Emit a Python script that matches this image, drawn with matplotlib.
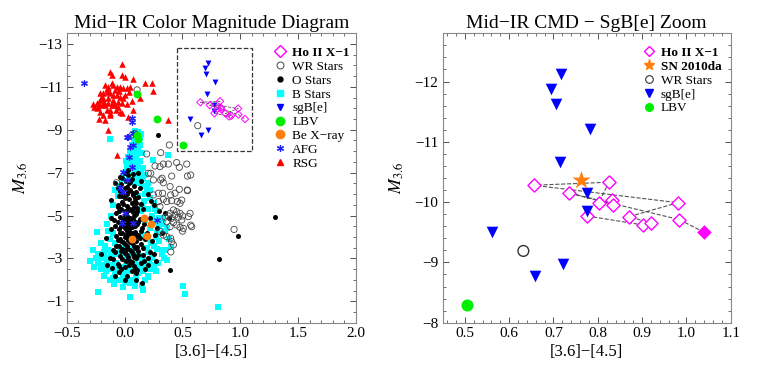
import matplotlib
matplotlib.use("Agg")
import matplotlib.pyplot as plt
from matplotlib.lines import Line2D
from matplotlib.ticker import MultipleLocator
from matplotlib.patches import Rectangle

plt.rcParams['font.family'] = ['Liberation Serif', 'DejaVu Serif']
plt.rcParams['mathtext.fontset'] = 'stix'

# ---------------- data ----------------
# Ho II X-1 track (time ordered); last point is the filled one
ho_x = [0.776, 0.903, 0.921, 0.871, 0.981, 0.655, 0.825, 0.802, 0.832, 0.834, 0.736, 0.984, 1.040]
ho_y = [-9.77, -9.62, -9.65, -9.76, -9.99, -10.28, -10.33, -9.98, -10.03, -9.96, -10.15, -9.71, -9.50]

sn_x = [0.761]
sn_y = [-10.36]

sgb_x = [0.717, 0.694, 0.705, 0.782, 0.715, 0.776, 0.776, 0.562, 0.722, 0.659]
sgb_y = [-12.13, -11.88, -11.62, -11.22, -10.66, -10.15, -9.86, -9.50, -8.98, -8.77]

lbv_x = [0.108, 0.276, 0.108, 0.117, 0.504]
lbv_y = [-10.66, -9.49, -8.76, -8.56, -8.30]

bex_x = [0.166, 0.230, 0.195, 0.060]
bex_y = [-4.87, -4.60, -4.04, -3.91]

afg_x = [-0.35, 0.061, 0.061, 0.033, 0.076, 0.018, 0.047, 0.076, 0.041, 0.061, -0.011, 0.018,
         -0.039, -0.011, 0.004, -0.025, 0.076, 0.283]
afg_y = [-11.17, -9.53, -9.35, -8.65, -8.87, -8.68, -8.21, -8.29, -7.75, -7.28, -7.05, -6.66,
         -6.27, -6.11, -5.10, -4.64, -4.64, -4.79]

rsg_x = [-0.025, -0.126, -0.110, -0.025, 0.004, 0.076, 0.177, 0.234, 0.243, 0.133, 0.076, 0.061,
         0.033, -0.146, 0.378, -0.169, -0.140, -0.111, -0.097, -0.068, -0.083, -0.039, -0.011,
         0.018, 0.041, 0.047, -0.183, -0.212, -0.155, -0.126, -0.097, -0.068, -0.039, -0.011,
         -0.025, -0.054, -0.097, -0.140, -0.183, -0.212, -0.241, -0.264, -0.227, -0.198, -0.169,
         -0.140, -0.111, -0.083, -0.054, -0.155, -0.126, -0.212, -0.183, -0.126, -0.039, -0.025,
         -0.218, -0.169, -0.24, -0.20, -0.15, -0.10, -0.05, 0.00, -0.13, -0.07, -0.18, -0.27,
         -0.22, 0.02, -0.065]
rsg_y = [-12.07, -11.71, -11.55, -11.55, -11.48, -11.37, -11.17, -11.20, -10.82, -10.47, -9.92,
         -10.36, -9.61, -8.99, -9.46, -11.09, -11.01, -11.17, -11.09, -11.01, -10.86, -11.01,
         -10.93, -10.93, -10.78, -11.01, -10.70, -10.70, -10.78, -10.70, -10.62, -10.62, -10.55,
         -10.47, -10.27, -10.31, -10.39, -10.47, -10.47, -10.39, -10.23, -10.08, -10.08, -10.16,
         -10.16, -10.23, -10.16, -10.16, -10.08, -9.92, -9.92, -9.85, -9.69, -9.69, -9.85, -9.77,
         -9.49, -9.46, -10.0, -10.5, -10.9, -10.3, -10.8, -10.6, -9.8, -9.9, -10.3, -10.2,
         -10.2, -10.2, -7.83]

wr_x = [0.387, 0.312, 0.191, 0.450, 0.473, 0.335, 0.378, 0.263, 0.306, 0.537, 0.226, 0.407,
        0.312, 0.335, 0.324, 0.543, 0.393, 0.543, 0.473, 0.249, 0.292, 0.329, 0.398, 0.436,
        0.494, 0.479, 0.456, 0.364, 0.407, 0.335, 0.292, 0.306, 0.566, 0.551, 0.422, 0.450,
        0.479, 0.502, 0.393, 0.436, 0.465, 0.494, 0.407, 0.378, 0.350, 0.364, 0.422, 0.450,
        0.393, 0.479, 0.508, 0.580, 0.306, 0.335, 0.364, 0.398, 0.407, 0.422, 0.946, 0.571,
        0.542, 0.571, 0.500, 0.400, -0.070, 0.108, 0.065, 0.090, 0.249, 0.205, 0.632]
wr_y = [-8.29, -7.93, -7.87, -7.47, -7.25, -7.40, -7.40, -7.31, -7.28, -7.40, -6.97, -6.84,
        -6.66, -6.53, -6.74, -6.84, -6.35, -6.16, -6.22, -5.96, -6.04, -6.04, -5.96, -6.04,
        -5.72, -5.57, -5.65, -5.65, -5.69, -5.76, -5.65, -5.41, -5.10, -4.95, -5.26, -5.18,
        -5.10, -4.98, -5.10, -5.02, -4.92, -4.79, -4.87, -4.98, -4.92, -4.71, -4.67, -4.56,
        -4.48, -4.45, -4.40, -4.48, -4.25, -4.09, -4.01, -3.94, -3.78, -3.63, -4.35, -6.89,
        -6.19, -4.55, -4.27, -3.30, -6.53, -10.86, -8.76, -8.83, -6.66, -6.97, -9.19]

bst_x = [0.12, 0.10, 0.13, 0.08, 0.11, 0.06, 0.09, 0.12, 0.05, 0.08, 0.11, 0.03, 0.07, 0.10,
         0.13, 0.04, 0.08, 0.12, 0.02, 0.06, 0.10, 0.14, 0.00, 0.04, 0.08, 0.12, 0.16, -0.02,
         0.02, 0.06, 0.10, 0.15, 0.19, -0.123, 0.377, 0.249,
         -0.08, 0.18, 0.22, 0.25, 0.15, 0.20, 0.28, 0.24, 0.32, 0.18, 0.26, 0.30, 0.22, 0.35,
         0.28, 0.16, 0.20, 0.30, 0.25, 0.35, 0.40, 0.32, -0.10, -0.12, -0.15, -0.24, -0.10,
         -0.13, -0.08, -0.17, 0.12, 0.14, 0.10, 0.12,
         -0.27, -0.21, -0.18, -0.25, -0.30, -0.21, -0.16, -0.12, -0.08, -0.04, 0.00, 0.04, 0.08,
         0.12, 0.16, 0.20, 0.24, -0.23, -0.19, -0.15, -0.11, -0.07, -0.03, 0.01, 0.05, 0.09,
         0.13, 0.17, 0.21, 0.25, 0.29, -0.20, -0.16, -0.12, -0.08, -0.04, 0.00, 0.04, 0.08,
         0.12, 0.16, 0.20, -0.10, -0.05, 0.02, 0.07, 0.10, 0.205, -0.054, 0.148, 0.156, -0.01,
         0.05, -0.227, 0.047, 0.505, 0.525, 0.81, -0.30, 0.31, 0.335, 0.364,
         0.14, 0.09, 0.13, 0.15, 0.16, 0.01, 0.18, 0.20, 0.22, -0.05, -0.06, 0.17, 0.26, 0.30,
         0.33, 0.37, 0.27, 0.23, 0.38, 0.34, 0.28, -0.14, -0.20, -0.23, -0.26, -0.18, -0.13,
         -0.09, 0.00, 0.09, 0.18, 0.22, 0.27, 0.15, -0.01, 0.03, -0.06, 0.11, -0.14, 0.19,
         0.07, -0.02]
bst_y = [-8.90, -8.75, -8.60, -8.50, -8.40, -8.30, -8.20, -8.10, -8.00, -7.90, -7.85, -7.75,
         -7.70, -7.60, -7.55, -7.45, -7.40, -7.30, -7.25, -7.15, -7.10, -7.00, -7.00, -6.90,
         -6.85, -6.75, -6.70, -6.70, -6.60, -6.55, -6.50, -6.40, -6.30, -8.55, -7.83, -7.59,
         -6.20, -6.00, -5.80, -5.60, -5.50, -5.30, -5.20, -5.00, -4.90, -4.80, -4.70, -4.50,
         -4.40, -4.30, -4.20, -4.10, -3.90, -3.80, -3.60, -3.40, -3.55, -3.20, -5.50, -5.00,
         -4.60, -4.22, -4.20, -3.90, -3.70, -3.60, -5.90, -5.20, -4.60, -4.00,
         -3.40, -3.20, -3.30, -3.00, -2.90, -3.00, -3.00, -3.10, -3.20, -3.30, -3.00, -3.10,
         -3.20, -3.00, -3.10, -3.30, -3.00, -2.80, -2.70, -2.80, -2.70, -2.80, -2.60, -2.70,
         -2.60, -2.80, -2.70, -2.60, -2.80, -2.70, -2.77, -2.50, -2.40, -2.50, -2.30, -2.40,
         -2.30, -2.40, -2.50, -2.30, -2.40, -2.20, -2.10, -2.00, -2.10, -2.00, -2.15, -2.15,
         -1.99, -1.76, -1.53, -1.68, -1.85, -1.42, -1.18, -1.70, -1.36, -0.74, -2.87, -4.17,
         -3.39, -2.93,
         -8.80, -8.95, -8.30, -7.90, -7.20, -7.55, -6.90, -6.50, -6.20, -6.40, -5.90, -5.70,
         -5.30, -4.90, -4.60, -4.40, -4.00, -3.70, -3.90, -3.00, -3.45, -4.30, -3.70, -3.20,
         -2.60, -2.20, -2.00, -1.80, -1.90, -1.70, -2.00, -2.50, -2.40, -2.90, -2.20, -2.90,
         -2.55, -2.55, -3.40, -3.50, -3.45, -3.50]

ost_x = [0.00, 0.03, -0.02, 0.06, 0.01, 0.04, -0.03, 0.08, 0.00, 0.05, -0.04, 0.10, 0.02,
         0.07, -0.05, 0.12, 0.00, 0.04, 0.09, -0.02, 0.06, 0.14, -0.06, 0.02, 0.08, 0.11,
         -0.03, 0.04, 0.00, 0.07, -0.07, 0.10, 0.02, -0.04, 0.05, 0.13, -0.01, 0.08, -0.06,
         0.03, 0.11, 0.00, -0.03, 0.06, 0.15, -0.05, 0.02, 0.09, -0.02, 0.05, 0.12, -0.07,
         0.00, 0.07, -0.04, 0.03, 0.10, -0.01, 0.06, 0.14, -0.05, 0.02, 0.09, -0.02, 0.05,
         0.12, -0.08, 0.00, 0.07, 0.16, -0.04, 0.03, 0.10, -0.10, 0.01, 0.06, 0.14, -0.06,
         0.04, 0.00, 0.09, -0.03, 0.18,
         0.01, 0.03, 0.05, 0.02, 0.04, 0.01, 0.03, 0.06, 0.00, 0.04, 0.07, 0.02, 0.00, 0.08,
         -0.02, 0.06, 0.03, -0.01, 0.08, -0.03,
         -0.117, -0.12, -0.16, -0.08, 0.20, 0.25, 0.30, 0.22, 0.28, 0.19, 0.24, 0.22, 0.17,
         -0.13, -0.20, -0.11, 0.20, 0.32, 0.38, 0.35, 0.15, 0.39, 0.29, 1.30, 0.98, 0.82,
         -0.05, 0.02, 0.10, 0.14, 0.12,
         -0.04, 0.02, 0.07, -0.01, 0.03, 0.10, -0.05, 0.08, 0.01, -0.02, 0.09, 0.04, -0.04,
         0.02, 0.10, -0.06, 0.05, 0.00, 0.11, -0.03, 0.06, 0.02, -0.07, 0.13, 0.14, 0.12,
         0.11, 0.09, -0.08, -0.09, -0.06, -0.01, 0.05, 0.00, 0.06, 0.03, 0.01, 0.08, -0.02,
         0.12, 0.05, -0.10, 0.16, 0.18, 0.17, -0.05, 0.08, 0.11, 0.20, 0.25, 0.27, -0.15,
         -0.12, 0.16, 0.03, 0.07, -0.06, 0.13, 0.23, 0.26, 0.10, 0.00, -0.08, 0.06]
ost_y = [-7.00, -6.90, -6.75, -6.70, -6.60, -6.50, -6.45, -6.40, -6.30, -6.20, -6.15, -6.10,
         -6.00, -5.95, -5.90, -5.85, -5.80, -5.75, -5.70, -5.65, -5.60, -5.55, -5.50, -5.45,
         -5.40, -5.35, -5.30, -5.25, -5.20, -5.15, -5.10, -5.05, -5.00, -4.95, -4.90, -4.85,
         -4.80, -4.75, -4.70, -4.65, -4.60, -4.55, -4.50, -4.45, -4.40, -4.35, -4.30, -4.25,
         -4.20, -4.15, -4.10, -4.05, -4.00, -3.95, -3.90, -3.85, -3.80, -3.75, -3.70, -3.65,
         -3.60, -3.55, -3.50, -3.45, -3.40, -3.35, -3.30, -3.25, -3.20, -3.15, -3.10, -3.05,
         -3.00, -2.95, -2.90, -2.85, -2.80, -2.75, -2.70, -2.60, -2.55, -2.50, -2.50,
         -5.10, -4.90, -4.70, -4.50, -4.30, -4.10, -3.90, -4.00, -4.40, -4.60, -4.80, -3.60,
         -3.30, -3.60, -5.90, -5.30, -6.10, -4.70, -4.20, -3.80,
         -5.72, -4.35, -3.93, -6.50, -6.00, -5.50, -5.20, -4.90, -4.40, -4.20, -3.80, -3.30,
         -2.90, -3.00, -3.20, -2.55, -3.00, -4.20, -4.90, -5.10, -1.86, -2.45, -8.75, -4.95,
         -4.05, -2.95, -2.35, -2.20, -2.30, -6.60, -7.00,
         -6.80, -6.35, -6.05, -5.55, -5.35, -5.60, -5.20, -5.00, -4.85, -4.60, -4.50, -4.40,
         -4.20, -4.00, -4.05, -3.85, -3.75, -3.65, -3.55, -3.35, -3.30, -3.15, -3.60, -3.95,
         -4.30, -4.70, -5.20, -5.80, -4.50, -4.80, -5.40, -6.00, -6.55, -5.00, -4.20, -4.60,
         -3.45, -3.05, -2.95, -3.15, -2.90, -3.40, -3.50, -3.90, -4.60, -2.65, -2.65, -2.45,
         -2.70, -3.20, -2.90, -2.70, -4.90, -5.30, -7.10, -6.95, -6.30, -6.30, -5.70, -4.10,
         -2.00, -2.00, -2.20, -2.40]

# zoom-panel box (same as right panel limits)
box_x = [0.45, 1.10]
box_y = [-12.8, -8.0]

MAG = '#ff00ff'
ORANGE = '#ff7f0e'
GREEN = '#00ee00'
FRAME = '#888888'

fig = plt.figure(figsize=(7.59, 3.78), dpi=100)
ax1 = fig.add_axes([0.0879, 0.1463, 0.3812, 0.7656])
ax2 = fig.add_axes([0.5833, 0.1463, 0.3794, 0.7656])

# ---------------- left panel ----------------
ax1.scatter(bst_x, bst_y, marker='s', s=18, c='#00ffff', linewidths=0, zorder=2)
ax1.scatter(ost_x, ost_y, marker='o', s=13, c='black', linewidths=0, zorder=3)
ax1.scatter(wr_x, wr_y, marker='o', s=20, facecolors='none', edgecolors='#444444',
            linewidths=0.6, zorder=4)
ax1.scatter(rsg_x, rsg_y, marker='^', s=22, c='#ff0000', linewidths=0, zorder=4)
ax1.scatter(afg_x, afg_y, marker=(6, 2, 0), s=18, c='#2020ff', linewidths=0.9, zorder=5)
ax1.scatter(lbv_x, lbv_y, marker='o', s=32, c=GREEN, linewidths=0, zorder=5)
ax1.scatter(bex_x, bex_y, marker='o', s=32, c=ORANGE, linewidths=0, zorder=5)
ax1.scatter(sgb_x, sgb_y, marker='v', s=18, c='#0000ff', linewidths=0, zorder=5)
ax1.plot(ho_x, ho_y, ls='--', lw=0.6, color='#555555', zorder=5)
ax1.scatter(ho_x, ho_y, marker='D', s=14, facecolors='none', edgecolors=MAG,
            linewidths=0.7, zorder=6)
ax1.add_patch(Rectangle((box_x[0], box_y[0]), box_x[1] - box_x[0], box_y[1] - box_y[0],
                        fill=False, ls='--', lw=0.9, ec='#333333', zorder=6))

ax1.set_xlim(-0.5, 2.0)
ax1.set_ylim(0, -13.5)
ax1.xaxis.set_major_locator(MultipleLocator(0.5))
ax1.xaxis.set_minor_locator(MultipleLocator(0.1))
ax1.set_yticks([-13, -11, -9, -7, -5, -3, -1])
ax1.yaxis.set_minor_locator(MultipleLocator(0.5))
ax1.set_title('Mid\u2212IR Color Magnitude Diagram', fontsize=14, pad=4)

leg1_handles = [
    Line2D([], [], ls='none', marker='D', ms=6, mfc='none', mec=MAG, mew=1.0),
    Line2D([], [], ls='none', marker='o', ms=5, mfc='none', mec='#444444', mew=0.7),
    Line2D([], [], ls='none', marker='o', ms=3.5, color='black'),
    Line2D([], [], ls='none', marker='s', ms=5, color='#00ffff'),
    Line2D([], [], ls='none', marker='v', ms=5, color='#0000ff'),
    Line2D([], [], ls='none', marker='o', ms=6, color=GREEN),
    Line2D([], [], ls='none', marker='o', ms=6, color=ORANGE),
    Line2D([], [], ls='none', marker=(6, 2, 0), ms=5, color='#2020ff', mew=0.9),
    Line2D([], [], ls='none', marker='^', ms=5, color='#ff0000'),
]
leg1_labels = ['Ho II X\u22121', 'WR Stars', 'O Stars', 'B Stars', 'sgB[e]', 'LBV',
               'Be X\u2212ray', 'AFG', 'RSG']
leg1 = ax1.legend(leg1_handles, leg1_labels, loc='upper right', bbox_to_anchor=(1.01, 0.985),
                  frameon=False, fontsize=9.5, handlelength=0.8, handletextpad=0.5,
                  labelspacing=0.12, borderpad=0.2)
leg1.get_texts()[0].set_fontweight('bold')

# ---------------- right panel ----------------
ax2.plot(ho_x, ho_y, ls='--', lw=0.8, color='#555555', zorder=2)
ax2.scatter(ho_x[:-1], ho_y[:-1], marker='D', s=45, facecolors='white', edgecolors=MAG,
            linewidths=1.0, zorder=3)
ax2.scatter(ho_x[-1:], ho_y[-1:], marker='D', s=55, c=MAG, linewidths=0, zorder=3)
ax2.scatter(sgb_x, sgb_y, marker='v', s=70, c='#0000ff', linewidths=0, zorder=4)
ax2.scatter(sn_x, sn_y, marker='*', s=190, c=ORANGE, linewidths=0, zorder=5)
ax2.scatter([wr_x[-1]], [wr_y[-1]], marker='o', s=60, facecolors='none', edgecolors='#333333',
            linewidths=1.0, zorder=4)
ax2.scatter([lbv_x[-1]], [lbv_y[-1]], marker='o', s=75, c=GREEN, linewidths=0, zorder=4)

ax2.set_xlim(box_x[0], box_x[1])
ax2.set_ylim(box_y[1], box_y[0])
ax2.xaxis.set_major_locator(MultipleLocator(0.1))
ax2.xaxis.set_minor_locator(MultipleLocator(0.02))
ax2.yaxis.set_major_locator(MultipleLocator(1))
ax2.yaxis.set_minor_locator(MultipleLocator(0.2))
ax2.set_title('Mid\u2212IR CMD \u2212 SgB[e] Zoom', fontsize=14, pad=4)

leg2_handles = [
    Line2D([], [], ls='none', marker='D', ms=5, mfc='none', mec=MAG, mew=1.0),
    Line2D([], [], ls='none', marker='*', ms=8, color=ORANGE),
    Line2D([], [], ls='none', marker='o', ms=5.5, mfc='none', mec='#333333', mew=0.8),
    Line2D([], [], ls='none', marker='v', ms=5.5, color='#0000ff'),
    Line2D([], [], ls='none', marker='o', ms=5.5, color=GREEN),
]
leg2_labels = ['Ho II X\u22121', 'SN 2010da', 'WR Stars', 'sgB[e]', 'LBV']
leg2 = ax2.legend(leg2_handles, leg2_labels, loc='upper right', bbox_to_anchor=(1.0, 0.985),
                  frameon=False, fontsize=9.5, handlelength=0.8, handletextpad=0.5,
                  labelspacing=0.12, borderpad=0.2)
leg2.get_texts()[0].set_fontweight('bold')
leg2.get_texts()[1].set_fontweight('bold')

for ax in (ax1, ax2):
    for sp in ax.spines.values():
        sp.set_color(FRAME)
        sp.set_linewidth(0.8)
    ax.tick_params(which='both', direction='in', top=True, right=True,
                   labeltop=False, labelright=False, color='#333333')
    ax.tick_params(which='major', length=4, width=0.6, labelsize=11, pad=3)
    ax.tick_params(which='minor', length=2, width=0.5)
    ax.set_xlabel('[3.6]\u2212[4.5]', fontsize=12, labelpad=3)
    ax.set_ylabel('$M_{3.6}$', fontsize=13, labelpad=6)

fig.savefig('out.png', dpi=100)
